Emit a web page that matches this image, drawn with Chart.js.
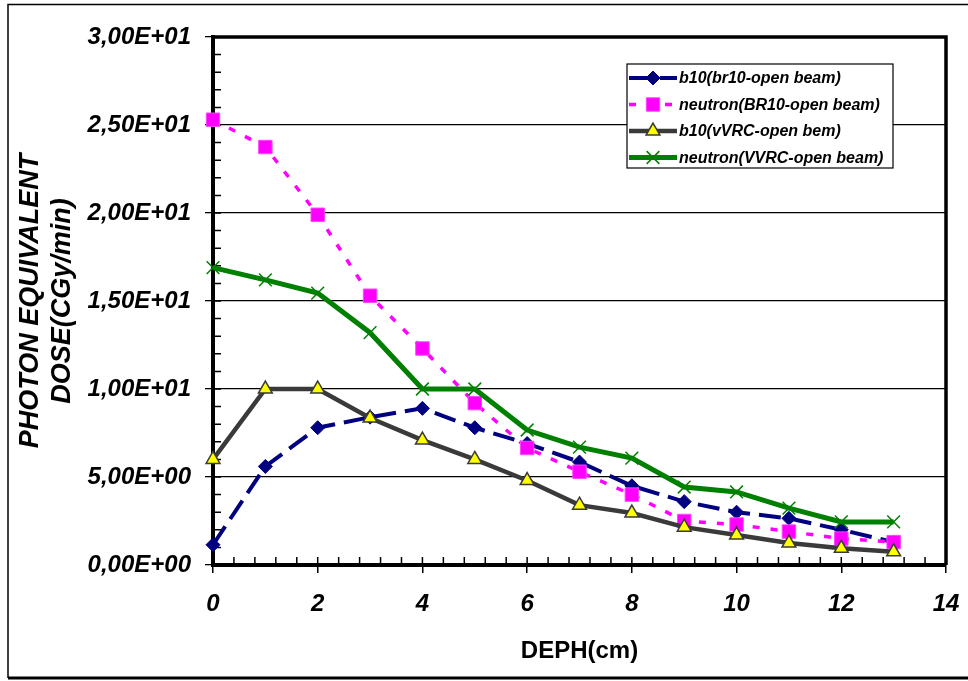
<!DOCTYPE html>
<html>
<head>
<meta charset="utf-8">
<script src="https://cdn.jsdelivr.net/npm/chart.js@4.4.1/dist/chart.umd.min.js"></script>
<style>
    html, body { margin: 0; padding: 0; background: #fff; }
</style>
</head>
<body>
<canvas id="doseChart" width="968" height="681"></canvas>
<script>
// depth in cm
const depth = [0, 1, 2, 3, 4, 5, 6, 7, 8, 9, 10, 11, 12, 13];
const b10Br10 = [1.15, 5.6, 7.8, 8.4, 8.9, 7.8, 6.9, 5.85, 4.5, 3.6, 3.0, 2.65, 2.0, 1.3];
const neutronBr10 = [25.3, 23.75, 19.9, 15.3, 12.3, 9.2, 6.65, 5.3, 4.0, 2.5, 2.3, 1.9, 1.5, 1.3];
const b10Vvrc = [6.0, 10.0, 10.0, 8.35, 7.1, 6.0, 4.8, 3.4, 2.95, 2.15, 1.7, 1.25, 0.95, 0.75];
const neutronVvrc = [16.9, 16.2, 15.45, 13.2, 10.0, 10.0, 7.67, 6.7, 6.07, 4.43, 4.15, 3.23, 2.45, 2.45];
const seriesNames = ['b10(br10-open beam)', 'neutron(BR10-open beam)', 'b10(vVRC-open bem)', 'neutron(VVRC-open beam)'];

const FONT = "'Liberation Sans', Arial, sans-serif";

function toPoints(values) {
    return values.map((v, i) => ({ x: depth[i], y: v }));
}

// 3,00E+01 style labels
function sciLabel(v) {
    if (v === 0) return '0,00E+00';
    const e = Math.floor(Math.log10(Math.abs(v)) + 1e-9);
    const m = v / Math.pow(10, e);
    return m.toFixed(2).replace('.', ',') + 'E' + (e < 0 ? '-' : '+') + String(Math.abs(e)).padStart(2, '0');
}

function drawMarker(ctx, ds, x, y) {
    const r = ds.pointRadius;
    ctx.save();
    ctx.setLineDash([]);
    ctx.fillStyle = ds.pointBackgroundColor;
    ctx.strokeStyle = ds.pointBorderColor;
    ctx.lineWidth = ds.pointBorderWidth;
    ctx.beginPath();
    if (ds.pointStyle === 'rectRot') {
        ctx.moveTo(x, y - r); ctx.lineTo(x + r, y); ctx.lineTo(x, y + r); ctx.lineTo(x - r, y);
        ctx.closePath(); ctx.fill(); ctx.stroke();
    } else if (ds.pointStyle === 'rect') {
        const s = r * Math.SQRT1_2;
        ctx.rect(x - s, y - s, 2 * s, 2 * s); ctx.fill(); ctx.stroke();
    } else if (ds.pointStyle === 'triangle') {
        let a = 0;
        for (let k = 0; k < 3; k++) {
            const px = x + Math.sin(a) * r, py = y - Math.cos(a) * r;
            if (k === 0) ctx.moveTo(px, py); else ctx.lineTo(px, py);
            a += Math.PI * 2 / 3;
        }
        ctx.closePath(); ctx.fill(); ctx.stroke();
    } else if (ds.pointStyle === 'crossRot') {
        const o = r * Math.SQRT1_2;
        ctx.moveTo(x - o, y - o); ctx.lineTo(x + o, y + o);
        ctx.moveTo(x + o, y - o); ctx.lineTo(x - o, y + o);
        ctx.stroke();
    }
    ctx.restore();
}

const chartDecor = {
    id: 'chartDecor',
    beforeDatasetsDraw(chart) {
        const ctx = chart.ctx, a = chart.chartArea;
        const xs = chart.scales.x, ys = chart.scales.y;
        ctx.save();
        ctx.strokeStyle = '#000';
        ctx.lineWidth = 1.5;
        ctx.beginPath();
        // minor ticks inside the plot
        for (let v = 0; v <= 30; v += 1) {
            const py = ys.getPixelForValue(v);
            ctx.moveTo(a.left, py); ctx.lineTo(a.left + 8, py);
        }
        for (let i = 0; i <= 35; i++) {
            const px = xs.getPixelForValue(i * 0.4);
            ctx.moveTo(px, a.bottom); ctx.lineTo(px, a.bottom - 8);
        }
        ctx.stroke();
        ctx.restore();
    },
    afterDraw(chart) {
        const ctx = chart.ctx, a = chart.chartArea;
        ctx.save();
        // top / right edge of plot box
        ctx.strokeStyle = '#000';
        ctx.lineWidth = 3.5;
        ctx.beginPath();
        ctx.moveTo(a.left, a.top); ctx.lineTo(a.right, a.top); ctx.lineTo(a.right, a.bottom);
        ctx.stroke();

        // outer frame
        ctx.lineWidth = 1.5;
        ctx.beginPath();
        ctx.moveTo(968, 4.5); ctx.lineTo(8, 4.5); ctx.lineTo(8, 678);
        ctx.stroke();
        ctx.lineWidth = 3;
        ctx.beginPath();
        ctx.moveTo(8, 678); ctx.lineTo(968, 678);
        ctx.stroke();

        // legend
        const box = { left: 627, top: 64, right: 893, bottom: 168 };
        ctx.fillStyle = '#fff';
        ctx.fillRect(box.left, box.top, box.right - box.left, box.bottom - box.top);
        ctx.lineWidth = 1.2;
        ctx.strokeStyle = '#000';
        ctx.strokeRect(box.left, box.top, box.right - box.left, box.bottom - box.top);
        ctx.font = "italic bold 16px " + FONT;
        ctx.textBaseline = 'middle';
        ctx.textAlign = 'left';
        chart.data.datasets.forEach((ds, i) => {
            const y = box.top + 14 + i * 26.5;
            ctx.save();
            ctx.strokeStyle = ds.borderColor;
            ctx.lineWidth = ds.borderWidth;
            ctx.setLineDash(ds.borderDash || []);
            ctx.beginPath();
            ctx.moveTo(box.left + 2, y); ctx.lineTo(box.left + 50, y);
            ctx.stroke();
            ctx.restore();
            drawMarker(ctx, ds, box.left + 26, y);
            ctx.fillStyle = '#000';
            ctx.fillText(ds.label, 679, y + 1);
        });
        ctx.restore();
    }
};

const ctx = document.getElementById('doseChart');
const doseChart = new Chart(ctx, {
    type: 'line',
    data: {
        datasets: [{
            label: seriesNames[0],
            data: toPoints(b10Br10),
            borderColor: '#000080',
            borderWidth: 4,
            borderDash: [22, 9],
            pointStyle: 'rectRot',
            pointRadius: 7,
            pointBackgroundColor: '#000080',
            pointBorderColor: '#000080',
            pointBorderWidth: 1,
            order: 4
        }, {
            label: seriesNames[1],
            data: toPoints(neutronBr10),
            borderColor: '#ff00ff',
            borderWidth: 3.5,
            borderDash: [7, 11],
            pointStyle: 'rect',
            pointRadius: 9.5,
            pointBackgroundColor: '#ff00ff',
            pointBorderColor: '#ff44ff',
            pointBorderWidth: 1,
            order: 3
        }, {
            label: seriesNames[2],
            data: toPoints(b10Vvrc),
            borderColor: '#3a3a3a',
            borderWidth: 4.5,
            pointStyle: 'triangle',
            pointRadius: 8,
            pointBackgroundColor: '#ffff00',
            pointBorderColor: '#3a3a3a',
            pointBorderWidth: 1.5,
            order: 2
        }, {
            label: seriesNames[3],
            data: toPoints(neutronVvrc),
            borderColor: '#008000',
            borderWidth: 5,
            pointStyle: 'crossRot',
            pointRadius: 9,
            pointBackgroundColor: '#008000',
            pointBorderColor: '#008000',
            pointBorderWidth: 1.5,
            order: 1
        }]
    },
    options: {
        responsive: false,
        animation: false,
        devicePixelRatio: 1,
        clip: false,
        layout: { padding: { top: 37, right: 22, left: 0, bottom: 0 } },
        elements: { line: { tension: 0, fill: false } },
        plugins: {
            legend: { display: false },
            tooltip: { enabled: false }
        },
        scales: {
            x: {
                type: 'linear',
                min: 0,
                max: 14,
                afterFit: function (scale) {
                    scale.height = 116;
                    scale.paddingLeft = 0;
                    scale.paddingRight = 0;
                },
                ticks: {
                    stepSize: 2,
                    padding: 17,
                    color: '#000',
                    font: { family: FONT, size: 24, weight: 'bold', style: 'italic' }
                },
                grid: {
                    drawOnChartArea: false,
                    drawTicks: true,
                    tickLength: 8,
                    color: '#000',
                    lineWidth: 1.5
                },
                border: { display: true, color: '#000', width: 4 },
                title: {
                    display: true,
                    text: 'DEPH(cm)',
                    color: '#000',
                    padding: { top: 0, bottom: 15 },
                    font: { family: FONT, size: 24, weight: 'bold', lineHeight: 1.2 }
                }
            },
            y: {
                min: 0,
                max: 30,
                afterFit: function (scale) {
                    scale.width = 213;
                    scale.paddingTop = 0;
                    scale.paddingBottom = 0;
                },
                ticks: {
                    stepSize: 5,
                    padding: 14,
                    color: '#000',
                    callback: function (value) { return sciLabel(value); },
                    font: { family: FONT, size: 24, weight: 'bold', style: 'italic' }
                },
                grid: {
                    drawTicks: true,
                    tickLength: 8,
                    color: '#000',
                    lineWidth: 1.3
                },
                border: { display: true, color: '#000', width: 4 },
                title: {
                    display: true,
                    text: ['PHOTON EQUIVALENT', 'DOSE(CGy/min)'],
                    color: '#000',
                    padding: { top: 14, bottom: 0 },
                    font: { family: FONT, size: 27, weight: 'bold', style: 'italic', lineHeight: 1.2 }
                }
            }
        }
    },
    plugins: [chartDecor]
});
</script>
</body>
</html>
